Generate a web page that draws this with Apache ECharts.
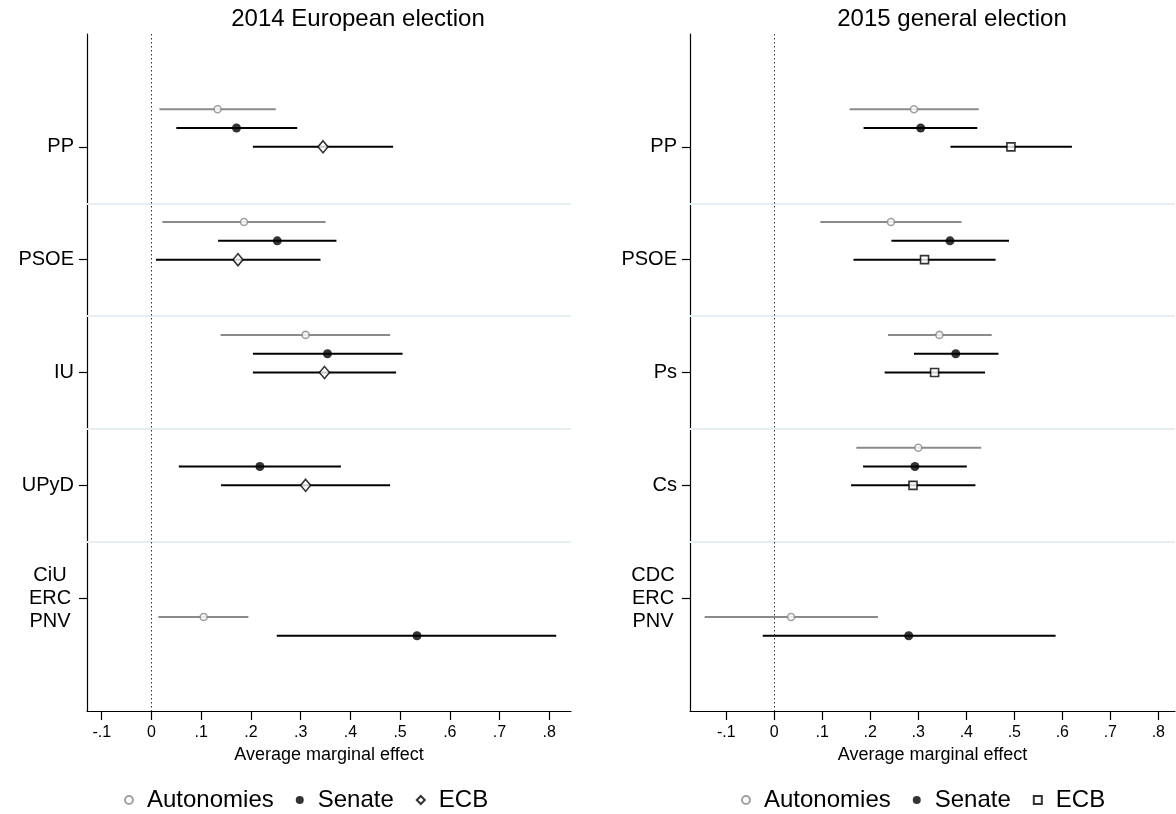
<!DOCTYPE html>
<html><head><meta charset="utf-8">
<script src="https://cdn.jsdelivr.net/npm/echarts@6/dist/echarts.min.js"></script>
<style>html,body{margin:0;padding:0;background:#fff}#c{width:1176px;height:814px}</style>
</head><body><div id="c"></div>
<script>
// ---------- data ----------
const panelTitles = ['2014 European election', '2015 general election'];
const euParties = ['PP', 'PSOE', 'IU', 'UPyD', 'CiU\nERC\nPNV'];
const geParties = ['PP', 'PSOE', 'Ps', 'Cs', 'CDC\nERC\nPNV'];
const xTickValues = [-0.1, 0, 0.1, 0.2, 0.3, 0.4, 0.5, 0.6, 0.7, 0.8];
const seriesNames = ['Autonomies', 'Senate', 'ECB'];

// 2014 European election
const euAutEst = [0.133, 0.186, 0.310, null, 0.105];
const euAutLo  = [0.016, 0.022, 0.139, null, 0.014];
const euAutHi  = [0.250, 0.350, 0.480, null, 0.195];
const euSenEst = [0.171, 0.253, 0.354, 0.218, 0.534];
const euSenLo  = [0.050, 0.134, 0.204, 0.055, 0.252];
const euSenHi  = [0.293, 0.372, 0.505, 0.381, 0.814];
const euEcbEst = [0.345, 0.174, 0.348, 0.310, null];
const euEcbLo  = [0.204, 0.009, 0.204, 0.140, null];
const euEcbHi  = [0.486, 0.340, 0.492, 0.480, null];

// 2015 general election
const geAutEst = [0.291, 0.243, 0.344, 0.300, 0.035];
const geAutLo  = [0.157, 0.096, 0.237, 0.171, -0.145];
const geAutHi  = [0.426, 0.390, 0.453, 0.431, 0.216];
const geSenEst = [0.305, 0.366, 0.378, 0.293, 0.280];
const geSenLo  = [0.186, 0.244, 0.291, 0.185, -0.024];
const geSenHi  = [0.423, 0.489, 0.467, 0.401, 0.586];
const geEcbEst = [0.493, 0.313, 0.334, 0.289, null];
const geEcbLo  = [0.367, 0.165, 0.230, 0.160, null];
const geEcbHi  = [0.620, 0.461, 0.439, 0.419, null];

// ---------- layout ----------
const FONT = '"Liberation Sans", Arial, Helvetica, sans-serif';
const groupStep = 6;                 // slots per party group on the row axis
const rowOffset = [-2, -1, 0];       // Autonomies, Senate, ECB rows within a group
const groupShift = [0, 0, 0, 0, 3];  // last group drawn below its label
const labelPos = [1, 2, 3, 4, 5].map(k => k * groupStep);
const sepPos = [1, 2, 3, 4].map(k => k * groupStep + groupStep / 2);

const panels = [
  { parties: euParties, est: [euAutEst, euSenEst, euEcbEst], lo: [euAutLo, euSenLo, euEcbLo], hi: [euAutHi, euSenHi, euEcbHi],
    ecbSymbol: 'diamond', ecbSize: [10, 12], xmin: -0.1296, xmax: 0.8437, grid: { left: 87, top: 34, width: 484, height: 677 },
    titleX: 358, legendLeft: 124, suffix: '' },
  { parties: geParties, est: [geAutEst, geSenEst, geEcbEst], lo: [geAutLo, geSenLo, geEcbLo], hi: [geAutHi, geSenHi, geEcbHi],
    ecbSymbol: 'rect', ecbSize: 8, xmin: -0.1755, xmax: 0.8347, grid: { left: 690, top: 34, width: 485, height: 677 },
    titleX: 952, legendLeft: 741, suffix: '#2' }
];

const lineColors = ['#8a8a8a', '#000', '#000'];
const fmtTick = v => {
  if (Math.abs(v) < 1e-9) return '0';
  return (Math.round(v * 10) / 10).toString().replace('0.', '.');
};

const option = {
  animation: false,
  backgroundColor: '#fff',
  textStyle: { fontFamily: FONT },
  title: [], grid: [], xAxis: [], yAxis: [], legend: [], series: []
};

panels.forEach((P, p) => {
  option.title.push({
    text: panelTitles[p], left: P.titleX, top: 7, textAlign: 'center', padding: 0,
    textStyle: { fontSize: 24, fontWeight: 'normal', color: '#000', fontFamily: FONT }
  });
  option.grid.push(P.grid);
  option.xAxis.push({
    gridIndex: p, type: 'value', min: P.xmin, max: P.xmax,
    axisLine: { show: true, onZero: false, lineStyle: { color: '#000', width: 1.2 } },
    axisTick: { show: true, length: 9, customValues: xTickValues, lineStyle: { color: '#000', width: 1.2 } },
    axisLabel: { customValues: xTickValues, formatter: fmtTick, fontSize: 16, color: '#000', margin: 14, fontFamily: FONT },
    splitLine: { show: false },
    name: 'Average marginal effect', nameLocation: 'middle', nameGap: 34,
    nameTextStyle: { fontSize: 18, color: '#000', fontFamily: FONT }
  });
  option.yAxis.push({
    gridIndex: p, type: 'value', inverse: true, min: 0, max: 36,
    axisLine: { show: true, onZero: false, lineStyle: { color: '#000', width: 1.2 } },
    axisTick: { show: true, length: 8, customValues: labelPos, lineStyle: { color: '#000', width: 1.2 } },
    axisLabel: {
      customValues: labelPos,
      formatter: v => {
        const s = P.parties[Math.round(v / groupStep) - 1] || '';
        return s.indexOf('\n') >= 0 ? '{m|' + s + '}' : s;
      },
      rich: { m: { width: 48, align: 'center', fontSize: 20, lineHeight: 23, color: '#000', fontFamily: FONT } },
      fontSize: 20, lineHeight: 23, color: '#000', margin: 13, fontFamily: FONT
    },
    splitLine: { show: false }
  });
  option.legend.push({
    data: seriesNames.map(n => n + P.suffix),
    formatter: n => n.replace('#2', ''),
    left: P.legendLeft, top: 788, orient: 'horizontal', padding: 0,
    itemWidth: 8, itemHeight: 8, itemGap: 22, selectedMode: false,
    textStyle: { fontSize: 24, color: '#000', fontFamily: FONT, padding: [0, 0, 0, 9] }
  });

  for (let t = 0; t < 3; t++) {
    const bars = [], pts = [];
    P.est[t].forEach((e, k) => {
      if (e === null) return;
      const y = labelPos[k] + rowOffset[t] + groupShift[k];
      bars.push([P.lo[t][k], P.hi[t][k], y]);
      pts.push([e, y]);
    });
    const color = lineColors[t];
    const bar = {
      type: 'custom', name: 'ci' + t + '_' + p, xAxisIndex: p, yAxisIndex: p,
      data: bars, encode: { x: [0, 1], y: 2 }, silent: true, z: 3,
      renderItem: (params, api) => {
        const a = api.coord([api.value(0), api.value(2)]);
        const b = api.coord([api.value(1), api.value(2)]);
        return { type: 'line', shape: { x1: a[0], y1: a[1], x2: b[0], y2: b[1] }, style: { stroke: color, lineWidth: 2 } };
      }
    };
    if (t === 0) {
      bar.markLine = {
        silent: true, symbol: ['none', 'none'], label: { show: false }, animation: false,
        data: sepPos.map(v => ({ yAxis: v, lineStyle: { color: '#e7eef2', width: 2, type: 'solid' } }))
          .concat([{ xAxis: 0, lineStyle: { color: '#333', width: 1, type: [1.5, 2.5] } }])
      };
    }
    option.series.push(bar);

    let sym, size, itemStyle;
    if (t === 0) { sym = 'circle'; size = 7; itemStyle = { color: '#fff', borderColor: '#8a8a8a', borderWidth: 1.6 }; }
    else if (t === 1) { sym = 'circle'; size = 9; itemStyle = { color: '#000', borderColor: '#000', borderWidth: 0 }; }
    else { sym = P.ecbSymbol; size = P.ecbSize; itemStyle = { color: '#fff', borderColor: '#000', borderWidth: 1.6 }; }
    option.series.push({
      type: 'scatter', name: seriesNames[t] + P.suffix, xAxisIndex: p, yAxisIndex: p,
      data: pts, symbol: sym, symbolSize: size, symbolKeepAspect: true, itemStyle: itemStyle, z: 5, silent: true
    });
  }
});

const chart = echarts.init(document.getElementById('c'), null, { renderer: 'canvas' });
chart.setOption(option);
</script>
</body></html>
